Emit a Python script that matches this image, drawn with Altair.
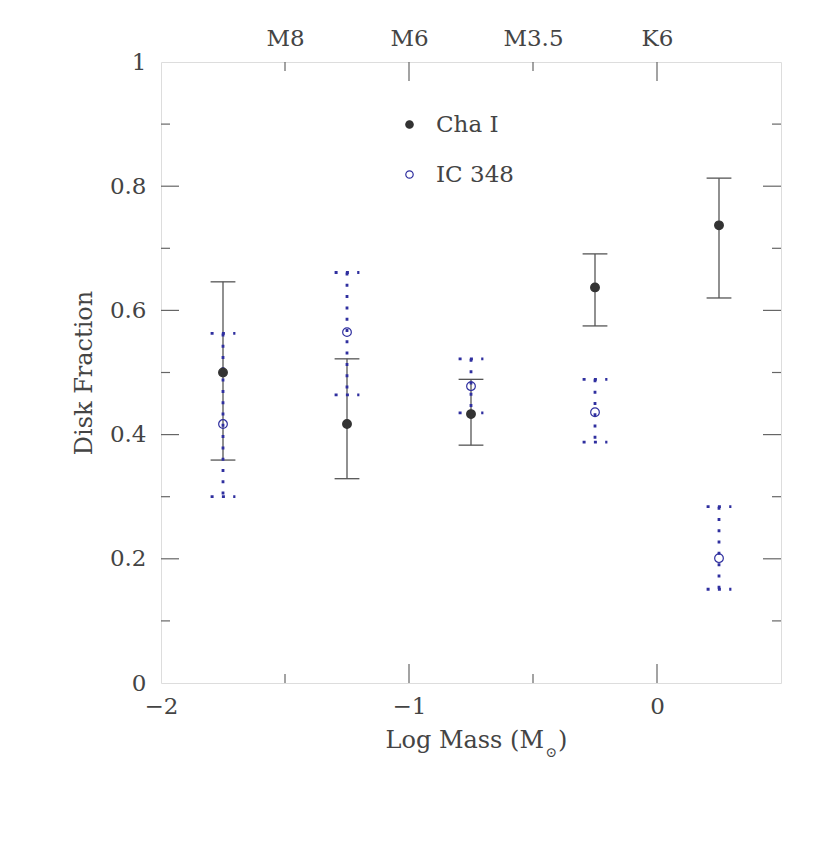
import altair as alt
import pandas as pd

# ---- data ----
mass_bins = [-1.75, -1.25, -0.75, -0.25, 0.25]          # log mass bin centres
cha_frac = [0.500, 0.417, 0.433, 0.637, 0.737]
cha_lo = [0.359, 0.329, 0.383, 0.575, 0.620]
cha_hi = [0.646, 0.522, 0.489, 0.691, 0.813]
ic_frac = [0.417, 0.565, 0.478, 0.436, 0.201]
ic_lo = [0.300, 0.464, 0.435, 0.388, 0.151]
ic_hi = [0.563, 0.661, 0.522, 0.489, 0.284]
series_names = ["Cha I", "IC 348"]

x_label_vals = [-2, -1, 0]
x_major_ticks = [-1, 0]
x_minor_ticks = [-1.5, -0.5]
spt_positions = [-1.5, -1, -0.5, 0]
spt_labels = ["M8", "M6", "M3.5", "K6"]
y_label_vals = [0, 0.2, 0.4, 0.6, 0.8, 1]
y_major_ticks = [0.2, 0.4, 0.6, 0.8]
y_minor_ticks = [0.1, 0.3, 0.5, 0.7, 0.9]

# ---- style ----
W, H = 620, 621
FONT = "DejaVu Serif"
FS = 23
TFS = 24
TXT = "#444444"
AX = "#666666"
CHA_C = "#333333"
IC_C = "#2f2f9f"
BAR_C = "#555555"

xs = alt.Scale(domain=[-2, 0.5], nice=False, zero=False)
ys = alt.Scale(domain=[0, 1], nice=False, zero=False)

cha_df = pd.DataFrame({"x": mass_bins, "y": cha_frac, "lo": cha_lo, "hi": cha_hi, "series": series_names[0]})
ic_df = pd.DataFrame({"x": mass_bins, "y": ic_frac, "lo": ic_lo, "hi": ic_hi, "series": series_names[1]})
pts_df = pd.concat([cha_df, ic_df], ignore_index=True)

# error bars: Cha I (solid) -- carries the bottom and left axes
cha_bar = alt.Chart(cha_df).mark_rule(color=BAR_C, strokeWidth=1.3).encode(
    x=alt.X("x:Q", scale=xs, axis=alt.Axis(orient="bottom", values=x_label_vals, ticks=False, domain=False,
                                           grid=False, labelFlush=False, labelPadding=12, labelFont=FONT,
                                           labelFontSize=FS, labelColor=TXT, title=None)),
    y=alt.Y("lo:Q", scale=ys, axis=alt.Axis(orient="left", values=y_label_vals, format="~g", ticks=False,
                                            domain=False, grid=False, labelFlush=False, labelPadding=15,
                                            labelFont=FONT, labelFontSize=FS, labelColor=TXT,
                                            title="Disk Fraction", titleFont=FONT, titleFontSize=TFS,
                                            titleFontWeight="normal", titleColor=TXT, titlePadding=13)),
    y2="hi:Q",
)
cha_caps = alt.Chart(cha_df).transform_fold(["lo", "hi"], as_=["end", "val"]).transform_calculate(
    xl="datum.x - 0.05", xr="datum.x + 0.05"
).mark_rule(color=BAR_C, strokeWidth=1.3).encode(
    x=alt.X("xl:Q", scale=xs, axis=None), x2="xr:Q", y=alt.Y("val:Q", scale=ys, axis=None)
)

# error bars: IC 348 (dotted)
ic_bar = alt.Chart(ic_df).mark_rule(color=IC_C, strokeWidth=2.8, strokeDash=[3, 8.3]).encode(
    x=alt.X("x:Q", scale=xs, axis=None), y=alt.Y("hi:Q", scale=ys, axis=None), y2="lo:Q"
)
ic_caps = alt.Chart(ic_df).transform_fold(["lo", "hi"], as_=["end", "val"]).transform_calculate(
    xl="datum.x - 0.05", xr="datum.x + 0.05"
).mark_rule(color=IC_C, strokeWidth=2.8, strokeDash=[3, 8.3]).encode(
    x=alt.X("xl:Q", scale=xs, axis=None), x2="xr:Q", y=alt.Y("val:Q", scale=ys, axis=None)
)

legend_opts = dict(title=None, orient="none", legendX=237, legendY=51, padding=0,
                   labelFont=FONT, labelFontSize=FS, labelColor=TXT, labelOffset=15,
                   symbolSize=55, symbolStrokeWidth=1.2, rowPadding=26, symbolType="circle")
points = alt.Chart(pts_df).mark_point(shape="circle", size=75, strokeWidth=1.2, opacity=1).encode(
    x=alt.X("x:Q", scale=xs, axis=None),
    y=alt.Y("y:Q", scale=ys, axis=None),
    color=alt.Color("series:N", scale=alt.Scale(domain=series_names, range=[CHA_C, IC_C]),
                    legend=alt.Legend(**legend_opts)),
    fill=alt.Fill("series:N", scale=alt.Scale(domain=series_names, range=[CHA_C, "rgba(0,0,0,0)"]),
                  legend=alt.Legend(**legend_opts)),
)

# inward ticks
def tick_layers(vals, length, top_axis=None):
    d = pd.DataFrame({"v": vals})
    bottom = alt.Chart(d).mark_rule(color=AX, strokeWidth=1.2).encode(
        x=alt.X("v:Q", scale=xs, axis=None), y=alt.value(H), y2=alt.value(H - length))
    top = alt.Chart(d).mark_rule(color=AX, strokeWidth=1.2).encode(
        x=alt.X("v:Q", scale=xs, axis=top_axis if top_axis is not None else None),
        y=alt.value(0), y2=alt.value(length))
    return [bottom, top]

def ytick_layers(vals, length):
    d = pd.DataFrame({"v": vals})
    left = alt.Chart(d).mark_rule(color=AX, strokeWidth=1.2).encode(
        y=alt.Y("v:Q", scale=ys, axis=None), x=alt.value(0), x2=alt.value(length))
    right = alt.Chart(d).mark_rule(color=AX, strokeWidth=1.2).encode(
        y=alt.Y("v:Q", scale=ys, axis=None), x=alt.value(W), x2=alt.value(W - length))
    return [left, right]

label_expr = " : ".join(
    f"datum.value == {p} ? '{l}'" for p, l in zip(spt_positions[:-1], spt_labels[:-1])
) + f" : '{spt_labels[-1]}'"
top_axis = alt.Axis(orient="top", values=spt_positions, labelExpr=label_expr, ticks=False, domain=False,
                    grid=False, labelFlush=False, labelPadding=12, labelFont=FONT, labelFontSize=FS,
                    labelColor=TXT, title=None)

tick_list = []
tick_list += tick_layers(x_major_ticks, 19, top_axis)
tick_list += tick_layers(x_minor_ticks, 9)
tick_list += ytick_layers(y_major_ticks, 18)
tick_list += ytick_layers(y_minor_ticks, 9)

# x-axis title with subscript sun symbol
title_main = alt.Chart(pd.DataFrame({"t": ["Log Mass (M"]})).mark_text(
    font=FONT, fontSize=TFS, color=TXT, align="right", baseline="alphabetic").encode(
    text="t:N", x=alt.value(383), y=alt.value(686))
title_sub = alt.Chart(pd.DataFrame({"t": ["\u2299"]})).mark_text(
    font=FONT, fontSize=14, color=TXT, align="center", baseline="alphabetic").encode(
    text="t:N", x=alt.value(390), y=alt.value(695))
title_close = alt.Chart(pd.DataFrame({"t": [")"]})).mark_text(
    font=FONT, fontSize=TFS, color=TXT, align="left", baseline="alphabetic").encode(
    text="t:N", x=alt.value(397), y=alt.value(686))

chart = alt.layer(
    cha_bar, *tick_list, cha_caps, ic_bar, ic_caps, points, title_main, title_sub, title_close
).resolve_axis(x="independent", y="independent").properties(
    width=W, height=H,
    autosize=alt.AutoSizeParams(type="none"),
    padding={"left": 153, "top": 54, "right": 41, "bottom": 150},
).configure_view(stroke=AX, strokeWidth=1.5).configure(background="white")

chart.save("out.html", embed_options={"renderer": "svg", "actions": False})
